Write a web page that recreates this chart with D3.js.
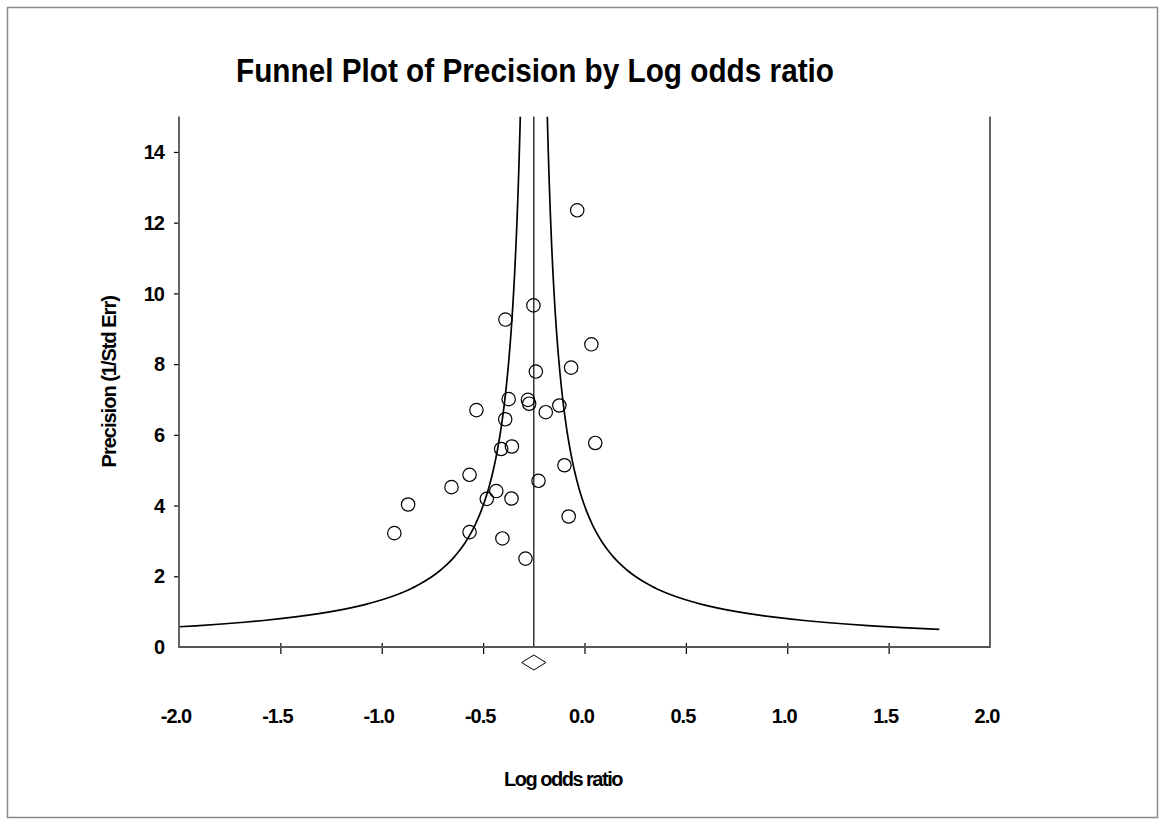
<!DOCTYPE html>
<html>
<head>
<meta charset="utf-8">
<script src="https://cdn.jsdelivr.net/npm/d3@7"></script>
<style>
    body { margin: 0; background: #fff; }
    svg { display: block; }
</style>
</head>
<body>
<div id="funnelChart"></div>
<script>
// study effects (log odds ratio) and their precision (1/SE)
var logOddsRatio = [-0.036, -0.252, -0.390, 0.034, -0.066, -0.240, -0.374, -0.279, -0.273, -0.533,
    -0.191, -0.124, -0.391, 0.053, -0.358, -0.411, -0.099, -0.567, -0.227, -0.656,
    -0.435, -0.482, -0.360, -0.870, -0.078, -0.938, -0.567, -0.405, -0.291];
var precision = [12.35, 9.66, 9.26, 8.56, 7.90, 7.79, 7.01, 6.99, 6.88, 6.70,
    6.64, 6.83, 6.44, 5.77, 5.67, 5.60, 5.14, 4.87, 4.70, 4.52,
    4.41, 4.19, 4.20, 4.03, 3.69, 3.22, 3.25, 3.07, 2.50];

// summary effect and its interval (diamond)
var summary = { mean: -0.25, lower: -0.31, upper: -0.19 };

var xTicks = [-2.0, -1.5, -1.0, -0.5, 0.0, 0.5, 1.0, 1.5, 2.0];
var yTicks = [0, 2, 4, 6, 8, 10, 12, 14];

function drawFunnel() {
    const width = 1164;
    const height = 825;
    var left = 179, right = 990, bottom = 647;

    var x = d3.scaleLinear().domain([-2, 2]).range([left, right]);
    var y = d3.scaleLinear().domain([0, 15]).range([bottom, 116.6]);
    var top = y(15);

    var data = logOddsRatio.map((d, i) => ({ es: d, prec: precision[i] }));

    const svg = d3.select("#funnelChart").append("svg")
        .attr("width", width)
        .attr("height", height)
        .attr("font-family", "'Liberation Sans', Arial, sans-serif")
        .attr("font-weight", "bold");

    // outer frame
    svg.append("rect")
        .attr("x", 7.5).attr("y", 7.5)
        .attr("width", 1150).attr("height", 810)
        .attr("fill", "none")
        .attr("stroke", "#8a8a8a")
        .attr("stroke-width", 1.5);

    svg.append("text")
        .attr("x", 535)
        .attr("y", 82)
        .attr("text-anchor", "middle")
        .attr("font-size", 34)
        .attr("textLength", 598)
        .attr("lengthAdjust", "spacingAndGlyphs")
        .text("Funnel Plot of Precision by Log odds ratio");

    svg.append("clipPath")
        .attr("id", "plotClip")
        .append("rect")
        .attr("x", left).attr("y", top)
        .attr("width", right - left).attr("height", bottom - top);

    // pseudo confidence limits: mean +/- 1/precision
    var precRange = d3.range(0.5, 15.01, 0.05);
    var funnel = d3.line()
        .x(d => x(d[0]))
        .y(d => y(d[1]));

    var plot = svg.append("g").attr("clip-path", "url(#plotClip)");

    plot.append("path")
        .attr("fill", "none")
        .attr("stroke", "black")
        .attr("stroke-width", 1.7)
        .attr("d", funnel(precRange.map(p => [summary.mean - 1 / p, p])));

    plot.append("path")
        .attr("fill", "none")
        .attr("stroke", "black")
        .attr("stroke-width", 1.7)
        .attr("d", funnel(precRange.map(p => [summary.mean + 1 / p, p])));

    svg.append("line")
        .attr("x1", x(summary.mean)).attr("x2", x(summary.mean))
        .attr("y1", top).attr("y2", bottom)
        .attr("stroke", "black")
        .attr("stroke-width", 1.2);

    svg.append("g")
        .attr("fill", "none")
        .attr("stroke", "black")
        .attr("stroke-width", 1.2)
        .selectAll("circle")
        .data(data)
        .join("circle")
        .attr("cx", d => x(d.es))
        .attr("cy", d => y(d.prec))
        .attr("r", 6.7);

    // axes
    var xAxis = g => g
        .attr("transform", `translate(0,${bottom})`)
        .call(d3.axisBottom(x).tickValues(xTicks.slice(1, -1)).tickSize(7).tickFormat(""))
        .call(g => g.select(".domain").remove())
        .call(g => g.selectAll(".tick line").attr("y1", -4).attr("stroke-width", 1.2));

    var yAxis = g => g
        .attr("transform", `translate(${left},0)`)
        .call(d3.axisLeft(y).tickValues(yTicks.slice(1)).tickSize(5).tickFormat(""))
        .call(g => g.select(".domain").remove())
        .call(g => g.selectAll(".tick line").attr("stroke-width", 1.2));

    svg.append("g").call(xAxis);
    svg.append("g").call(yAxis);

    svg.append("path")
        .attr("fill", "none")
        .attr("stroke", "#555")
        .attr("stroke-width", 1.8)
        .attr("d", `M${left},${top}V${bottom}H${right}V${top}`);

    svg.append("g")
        .attr("font-size", 20)
        .attr("letter-spacing", -1)
        .attr("text-anchor", "middle")
        .selectAll("text")
        .data(xTicks)
        .join("text")
        .attr("x", d => x(d) - 3)
        .attr("y", 723)
        .text(d => d.toFixed(1));

    svg.append("g")
        .attr("font-size", 20)
        .attr("letter-spacing", -1)
        .attr("text-anchor", "end")
        .selectAll("text")
        .data(yTicks)
        .join("text")
        .attr("x", left - 15)
        .attr("y", d => y(d))
        .attr("dy", "0.36em")
        .text(d => d);

    // summary diamond
    var dy = 7.5, cy = 662.5;
    svg.append("path")
        .attr("fill", "white")
        .attr("stroke", "black")
        .attr("stroke-width", 1)
        .attr("d", `M${x(summary.lower)},${cy}L${x(summary.mean)},${cy - dy}L${x(summary.upper)},${cy}L${x(summary.mean)},${cy + dy}Z`);

    svg.append("text")
        .attr("x", 563)
        .attr("y", 786)
        .attr("text-anchor", "middle")
        .attr("font-size", 20)
        .attr("letter-spacing", -1.5)
        .text("Log odds ratio");

    svg.append("text")
        .attr("transform", `translate(116,${(top + bottom) / 2}) rotate(-90)`)
        .attr("text-anchor", "middle")
        .attr("font-size", 20)
        .attr("letter-spacing", -1)
        .text("Precision (1/Std Err)");
}

drawFunnel();
</script>
</body>
</html>
